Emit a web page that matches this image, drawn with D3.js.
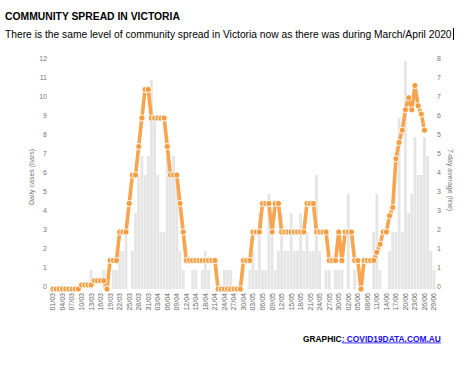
<!DOCTYPE html>
<html><head><meta charset="utf-8">
<script src="https://cdn.jsdelivr.net/npm/d3@7"></script>
<style>body{margin:0;background:#fff;} svg text{font-family:"Liberation Sans",Arial,sans-serif;}</style>
</head><body><svg id="c" width="468" height="367"></svg>
<script>
// ---- data ----
const startDate = "2020-03-01", endDate = "2020-06-29";
const dailyCases = [
 0,0,0,0,0,0,0,0,0,0,0,0,
 1,0,0,0,1,0,0,1,1,
 2,2,3,0,2,4,6,7,6,7,
 11,9,6,3,3,7,6,7,6,2,1,
 0,0,1,1,0,1,2,1,0,0,
 0,0,1,1,1,0,0,0,0,0,
 1,2,1,4,1,1,5,4,1,2,
 4,2,2,4,2,2,4,2,
 3,2,2,6,2,0,1,1,0,1,
 1,1,0,5,0,1,0,0,0,0,
 0,3,5,1,0,0,2,3,3,9,
 3,12,4,5,8,6,6,8,7,2,1];
const sevenDayAvg = [
 0,0,0,0,0,0,0,0,0,
 0.14,0.14,0.14,0.14,
 0.29,0.29,0.29,0.29,
 0,
 1,1,1,
 2,2,2,
 3,
 4,4,
 5,
 6,
 7,7,
 6,6,6,6,6,
 5,
 4,4,4,
 3,
 2,
 1,1,1,1,1,1,1,1,1,1,
 0,0,0,0,0,0,0,0,
 1,1,1,
 2,2,2,
 3,3,3,
 2,
 3,3,
 2,2,2,2,2,2,2,2,
 3,3,3,
 2,2,2,2,
 1,1,1,
 2,
 1,
 2,2,2,
 1,1,
 0,
 1,1,1,1,
 1.29,1.57,2,2,2.57,2.86,4.57,5.14,5.57,6.29,6.71,6.29,7.14,6.43,6.14,5.57];
const leftTicks = [0,1,2,3,4,5,6,7,8,9,10,11,12];
const rightTickLabels = ["0","1","1","2","3","3","4","5","5","6","7","7","8"];
const titleText = "COMMUNITY SPREAD IN VICTORIA";
const subtitleText = "There is the same level of community spread in Victoria now as there was during March/April 2020";
const leftAxisTitle = "Daily cases (bars)";
const rightAxisTitle = "7-day average (line)";

// ---- chart ----
const svg = d3.select("#c");
const parse = d3.timeParse("%Y-%m-%d");
const dates = d3.timeDay.range(parse(startDate), d3.timeDay.offset(parse(endDate), 1));
const fmt = d3.timeFormat("%d/%m");

const x = d3.scaleBand().domain(dates.map(fmt)).range([51.4, 435.6]).paddingInner(0.12).paddingOuter(0.06);
const yL = d3.scaleLinear().domain([0, 12]).range([289, 61]);
const yR = d3.scaleLinear().domain([0, 8]).range([289, 61]);

// bars
svg.append("g").selectAll("rect").data(dailyCases).join("rect")
  .attr("x", (d, i) => x(fmt(dates[i])))
  .attr("width", x.bandwidth())
  .attr("y", d => yL(d))
  .attr("height", d => yL(0) - yL(d))
  .attr("fill", "#e5e5e5");

// left axis
const gL = svg.append("g").attr("transform", "translate(47,-2.5)")
  .call(d3.axisLeft(yL).tickValues(leftTicks).tickSize(0).tickPadding(0).tickFormat(d3.format("d")));
gL.select(".domain").remove();
gL.selectAll("text").attr("fill", "#777").attr("font-size", "7px");

// right axis
const rightTicks = rightTickLabels.map((_, i) => i * 8 / 12);
const gR = svg.append("g").attr("transform", "translate(437,-2.5)")
  .call(d3.axisRight(yR).tickValues(rightTicks).tickSize(0).tickPadding(0).tickFormat((d, i) => rightTickLabels[i]));
gR.select(".domain").remove();
gR.selectAll("text").attr("fill", "#777").attr("font-size", "7px");

// x axis
const gX = svg.append("g").attr("transform", "translate(0,292)")
  .call(d3.axisBottom(x).tickValues(dates.filter((d, i) => i % 3 === 0).map(fmt)).tickSize(0).tickPadding(0));
gX.select(".domain").remove();
gX.selectAll("text").attr("fill", "#666").attr("font-size", "7px")
  .attr("transform", "rotate(-90)").attr("text-anchor", "end")
  .attr("x", -1).attr("y", 0).attr("dy", "0.35em");

// line
const lineData = sevenDayAvg.map((v, i) => ({k: fmt(dates[i]), v}));
const cx = d => x(d.k) + x.bandwidth() / 2;
svg.append("path").datum(lineData)
  .attr("fill", "none").attr("stroke", "#f9a44e").attr("stroke-width", 3.6)
  .attr("stroke-linejoin", "round")
  .attr("d", d3.line().x(cx).y(d => yR(d.v)));
svg.append("g").selectAll("circle").data(lineData).join("circle")
  .attr("cx", cx).attr("cy", d => yR(d.v)).attr("r", 3.1)
  .attr("fill", "#f89d3f").attr("stroke", "#fff").attr("stroke-width", 0.9);

// axis titles
svg.append("text").attr("transform", "translate(34,177) rotate(-90)")
  .attr("text-anchor", "middle").attr("font-size", "7px").attr("fill", "#777").text(leftAxisTitle);
svg.append("text").attr("transform", "translate(448,180) rotate(90)")
  .attr("text-anchor", "middle").attr("font-size", "7px").attr("fill", "#777").text(rightAxisTitle);

// titles
function fitText(sel, target) {
  const w = sel.node().getComputedTextLength();
  const fs = parseFloat(sel.attr("font-size"));
  sel.attr("font-size", (fs * target / w).toFixed(2) + "px");
}
const t1 = svg.append("text").attr("x", 5).attr("y", 19.5).attr("font-size", "10.5px")
  .attr("font-weight", "bold").attr("fill", "#000").text(titleText);
fitText(t1, 175);
const t2 = svg.append("text").attr("x", 5).attr("y", 37.5).attr("font-size", "10px")
  .attr("fill", "#000").text(subtitleText);
fitText(t2, 447);
svg.append("line").attr("x1", 453.5).attr("x2", 453.5).attr("y1", 28).attr("y2", 40)
  .attr("stroke", "#000").attr("stroke-width", 1);

// footer
const ft = svg.append("text").attr("x", 303).attr("y", 341.5)
  .attr("font-size", "8px").attr("font-weight", "bold");
ft.append("tspan").attr("fill", "#000").text("GRAPHIC");
ft.append("tspan").attr("fill", "#1a0dff").attr("text-decoration", "underline").text(": COVID19DATA.COM.AU");
fitText(ft, 138);
</script></body></html>
